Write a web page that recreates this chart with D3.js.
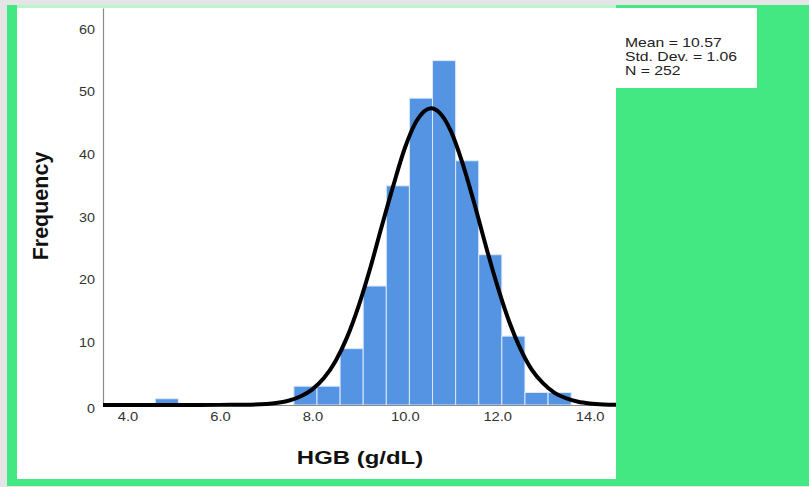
<!DOCTYPE html>
<html>
<head>
<meta charset="utf-8">
<script src="https://cdn.jsdelivr.net/npm/d3@7"></script>
<style>
  html, body { margin: 0; padding: 0; background: #e5e5e5; }
  svg { display: block; font-family: "Liberation Sans", Arial, sans-serif; }
</style>
</head>
<body>
<div id="chart"></div>
<script>
// histogram bins (HGB g/dL) and counts
const binStarts = [4.6, 7.6, 8.1, 8.6, 9.1, 9.6, 10.1, 10.6, 11.1, 11.6, 12.1, 12.6, 13.1];
const counts = [1, 3, 3, 9, 19, 35, 49, 55, 39, 24, 11, 2, 2];
const binWidth = 0.5;

// normal curve
const curveX = [3.47, 5.0, 6.0, 6.5, 7.0, 7.25, 7.5, 7.75, 8.0, 8.25, 8.5, 8.75, 9.0, 9.25, 9.5, 9.75, 10.0, 10.25, 10.57,
  10.75, 11.0, 11.25, 11.5, 11.75, 12.0, 12.25, 12.5, 12.75, 13.0, 13.25, 13.5, 13.75, 14.0, 14.3, 14.6];
const curveY = [0, 0, 0.02, 0.05, 0.16, 0.35, 0.72, 1.4, 2.5, 4.3, 7.0, 10.8, 15.8, 21.8, 28.5, 35.0, 41.0, 45.3, 47.4,
  46.7, 43.7, 38.6, 32.3, 25.5, 19.1, 13.5, 9.0, 5.6, 3.4, 1.9, 1.04, 0.52, 0.25, 0.09, 0.03];

const xTicks = [4, 6, 8, 10, 12, 14];
const yTicks = [0, 10, 20, 30, 40, 50, 60];
const statLines = ["Mean = 10.57", "Std. Dev. = 1.06", "N = 252"];

(function(){
  const W = 809, H = 487;
  const plot = {left: 103, right: 616, top: 8, bottom: 405};
  const GREEN = "#44e882";

  const svg = d3.select("#chart").append("svg")
    .attr("width", W)
    .attr("height", H);

  // frame
  svg.append("rect").attr("x", 0).attr("y", 0).attr("width", W).attr("height", H).attr("fill", "#e5e5e5");
  svg.append("rect").attr("x", 7).attr("y", 5).attr("width", W - 7).attr("height", 481).attr("fill", GREEN);
  svg.append("rect").attr("x", 17).attr("y", 5).attr("width", 599).attr("height", 3).attr("fill", "#b9f5cf");
  svg.append("rect").attr("x", 17).attr("y", 8).attr("width", 599).attr("height", 471).attr("fill", "#fff");

  const x = d3.scaleLinear().domain([3.47, 14.57]).range([plot.left, plot.right]);
  const y = d3.scaleLinear().domain([0, 63.4]).range([plot.bottom, plot.top]);

  // bars
  const bins = binStarts.map((b, i) => ({x0: b, x1: b + binWidth, n: counts[i]}));
  svg.append("g").selectAll("rect")
    .data(bins)
    .join("rect")
      .attr("x", d => x(d.x0))
      .attr("y", d => y(d.n))
      .attr("width", d => x(d.x1) - x(d.x0))
      .attr("height", d => y(0) - y(d.n))
      .attr("fill", "#5594e3")
      .attr("stroke", "#dce9fa")
      .attr("stroke-width", 1);

  // axes
  const yAxis = d3.axisLeft(y).tickValues(yTicks).tickSize(0).tickPadding(7).tickFormat(d3.format("d"));
  const yg = svg.append("g").attr("transform", `translate(${plot.left},0)`).call(yAxis);
  yg.select(".domain").attr("stroke", "#8a8a8a").attr("stroke-width", 1.2);
  yg.selectAll("text")
    .attr("font-size", 12.5)
    .attr("fill", "#333")
    .attr("font-family", "Liberation Sans, Arial, sans-serif")
    .attr("transform", "scale(1.15,1)");
  yg.selectAll(".tick").filter(d => d === 0).select("text").attr("dy", "0.62em");

  const xAxis = d3.axisBottom(x).tickValues(xTicks).tickSize(0).tickPadding(7).tickFormat(d3.format(".1f"));
  const xg = svg.append("g").attr("transform", `translate(0,${plot.bottom})`).call(xAxis);
  xg.select(".domain").attr("stroke", "#8a8a8a").attr("stroke-width", 1.2);
  xg.selectAll("text")
    .attr("font-size", 12.5)
    .attr("fill", "#333")
    .attr("font-family", "Liberation Sans, Arial, sans-serif")
    .attr("transform", "scale(1.18,1)");

  // normal curve
  const pts = curveX.map((v, i) => [v, curveY[i]]);
  const line = d3.line().x(d => x(d[0])).y(d => y(d[1])).curve(d3.curveMonotoneX);
  svg.append("path")
    .datum(pts)
    .attr("d", line)
    .attr("fill", "none")
    .attr("stroke", "#000")
    .attr("stroke-width", 4)
    .attr("stroke-linejoin", "round");

  // axis titles
  svg.append("text")
    .attr("transform", "translate(360,464) scale(1.26,1)")
    .attr("text-anchor", "middle")
    .attr("font-size", 19)
    .attr("font-weight", "bold")
    .attr("fill", "#111")
    .text("HGB (g/dL)");

  svg.append("text")
    .attr("transform", "translate(48,206) rotate(-90)")
    .attr("text-anchor", "middle")
    .attr("font-size", 21.5)
    .attr("font-weight", "bold")
    .attr("fill", "#111")
    .text("Frequency");

  // green block covering right of plot, with stats box
  svg.append("rect").attr("x", 616).attr("y", 8).attr("width", W - 616).attr("height", 471).attr("fill", GREEN);
  svg.append("rect").attr("x", 616).attr("y", 8).attr("width", 141).attr("height", 80).attr("fill", "#fff");
  svg.append("g").selectAll("text")
    .data(statLines)
    .join("text")
      .attr("transform", (d, i) => `translate(625,${47 + i * 14}) scale(1.26,1)`)
      .attr("font-size", 12.5)
      .attr("fill", "#222")
      .text(d => d);
})();
</script>
</body>
</html>
